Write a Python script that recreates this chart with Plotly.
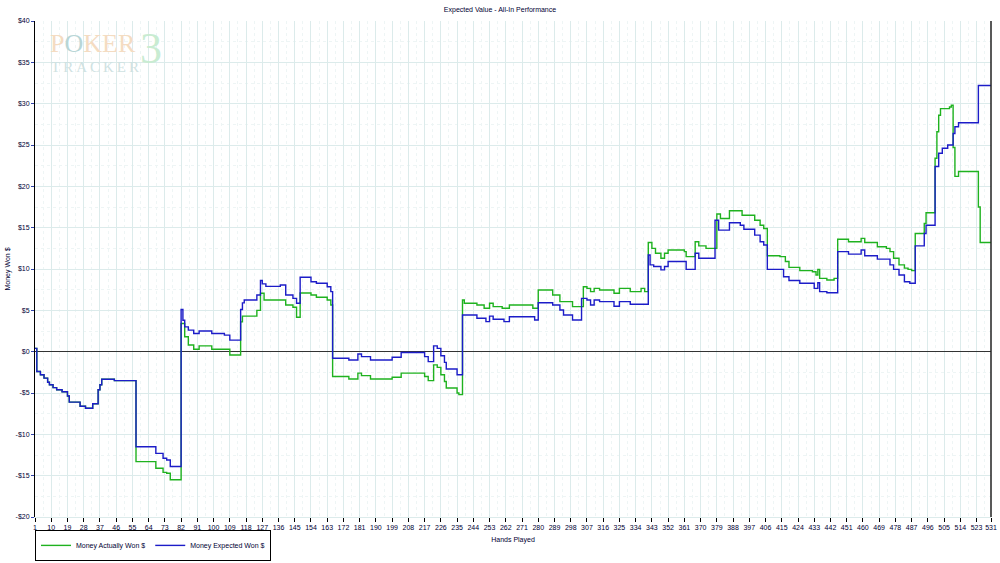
import plotly.graph_objects as go

# ---- data ----
hands_expected = [1, 2, 4, 6, 8, 9, 11, 13, 16, 19, 20, 26, 29, 33, 36, 37, 38, 45,
                  57, 68, 72, 74, 76, 82, 83, 84, 86, 89, 92, 99, 106, 109, 115, 116, 117,
                  124, 126, 127, 129, 137, 140, 144, 146, 148, 154, 157, 163, 165, 166,
                  175, 180, 182, 187, 199, 204, 217, 219, 222, 224, 226, 228, 229, 235,
                  238, 246, 251, 253, 255, 261, 264, 278, 280, 288, 292, 294, 299, 304,
                  307, 309, 311, 314, 322, 325, 331, 341, 342, 344, 348, 350, 352, 362,
                  367, 369, 378, 380, 386, 392, 394, 400, 403, 405, 407, 416, 419, 425,
                  433, 435, 436, 440, 446, 452, 459, 461, 468, 475, 477, 480, 483, 486,
                  489, 494, 495, 500, 502, 504, 507, 510, 511, 513, 524, 531]
won_expected = [0.4, -2.4, -2.8, -3.2, -3.7, -4.0, -4.35, -4.6, -4.84, -5.36, -6.1, -6.6, -6.85, -6.3, -4.6, -4.0, -3.34, -3.5,
                -11.5, -12.3, -12.9, -13.1, -13.9, 5.1, 3.8, 3.0, 2.6, 2.2, 2.5, 2.2, 2.0, 1.4, 5.1, 5.9, 6.25,
                6.85, 8.6, 8.2, 7.9, 8.07, 6.85, 6.45, 5.85, 9.0, 8.46, 8.27, 7.86, 7.26, -0.8,
                -1.0, -0.28, -0.6, -1.0, -0.68, -0.1, -0.6, -1.2, 0.7, 0.4, -0.5, -1.3, -2.1, -2.8,
                4.44, 4.04, 3.63, 4.3, 3.92, 3.63, 4.23, 3.83, 5.92, 5.65, 5.04, 4.44, 3.83, 6.45,
                6.25, 5.65, 6.25, 6.05, 5.5, 6.05, 5.73, 11.7, 10.5, 10.3, 9.9, 10.3, 10.9, 9.96,
                11.9, 11.3, 15.9, 14.7, 15.6, 15.3, 14.8, 14.1, 13.3, 12.9, 9.96, 9.07, 8.6, 8.27,
                7.66, 8.34, 7.26, 7.13, 12.1, 11.8, 12.3, 11.6, 11.2, 10.5, 9.96, 9.27, 8.46, 8.27,
                12.8, 14.3, 15.3, 22.4, 24.0, 24.6, 25.0, 26.4, 27.2, 27.7, 32.2, 32.2]

hands_actual = [1, 2, 4, 6, 8, 9, 11, 13, 16, 19, 20, 26, 29, 33, 36, 37, 38, 45,
                57, 68, 72, 74, 76, 82, 84, 86, 89, 92, 99, 109, 115, 116, 124, 126, 128,
                140, 144, 146, 148, 154, 157, 163, 165, 166, 175, 180, 182, 187, 199, 204,
                217, 219, 222, 224, 226, 228, 229, 235, 236, 238, 239, 246, 250, 253, 255,
                260, 264, 277, 280, 288, 292, 299, 305, 307, 309, 311, 314, 322, 325, 331,
                337, 339, 341, 343, 345, 348, 350, 352, 361, 362, 367, 369, 373, 379, 381,
                386, 393, 400, 403, 405, 407, 414, 417, 419, 425, 432, 434, 435, 436, 440,
                444, 446, 452, 459, 461, 468, 473, 475, 477, 480, 483, 485, 487, 489, 494,
                495, 500, 501, 502, 503, 508, 509, 510, 511, 513, 524, 525, 531]
won_actual = [0.4, -2.4, -2.8, -3.2, -3.7, -4.0, -4.35, -4.6, -4.84, -5.36, -6.1, -6.6, -6.85, -6.3, -4.6, -4.0, -3.34, -3.5,
              -13.3, -14.1, -14.6, -14.7, -15.5, 3.4, 1.8, 0.8, 0.3, 0.7, 0.3, -0.4, 3.6, 4.3, 5.0, 7.06, 6.25,
              5.65, 5.37, 4.16, 7.1, 6.85, 6.58, 6.25, 5.65, -3.0, -3.3, -2.6, -2.9, -3.3, -3.1, -2.6,
              -3.0, -3.5, -1.6, -1.9, -2.8, -3.6, -4.4, -5.0, -5.2, 6.25, 5.85, 5.65, 5.25, 5.85, 5.45,
              5.25, 5.65, 5.25, 7.46, 6.85, 6.05, 5.45, 7.86, 7.66, 7.26, 7.66, 7.46, 7.06, 7.66, 7.26,
              7.66, 7.26, 13.2, 12.5, 11.9, 11.3, 11.9, 12.3, 12.1, 11.5, 13.3, 12.8, 12.5, 16.65, 16.1,
              17.05, 16.5, 15.9, 15.3, 14.9, 11.6, 11.5, 10.9, 10.2, 9.8, 9.67, 9.27, 9.96, 8.87, 8.67,
              8.87, 13.6, 13.3, 13.7, 13.2, 12.7, 12.5, 12.1, 11.3, 10.5, 10.1, 9.96, 9.8, 14.3, 15.5,
              16.8, 23.4, 26.6, 28.6, 29.4, 29.6, 29.8, 24.7, 21.2, 21.8, 17.5, 13.2, 13.2]

x_ticks = list(range(1, 524, 9)) + [531]
y_ticks = [-20, -15, -10, -5, 0, 5, 10, 15, 20, 25, 30, 35, 40]
y_tick_text = ["-$20", "-$15", "-$10", "-$5", "$0", "$5", "$10", "$15", "$20", "$25", "$30", "$35", "$40"]

FONT = "Liberation Sans"

fig = go.Figure()
fig.add_trace(go.Scatter(x=hands_actual, y=won_actual, mode="lines", line_shape="hv",
                         name="Money Actually Won $", line=dict(color="#1fb21f", width=1.4)))
fig.add_trace(go.Scatter(x=hands_expected, y=won_expected, mode="lines", line_shape="hv",
                         name="Money Expected Won $", line=dict(color="#1c1cc8", width=1.4)))

fig.update_layout(
    width=1000, height=563,
    margin=dict(l=35, r=9, t=21, b=46, autoexpand=False),
    paper_bgcolor="white", plot_bgcolor="white",
    font=dict(family=FONT, size=7, color="#000033"),
    title=dict(text="Expected Value - All-In Performance", x=0.5, xanchor="center",
               y=1 - 7 / 563, yanchor="top", font=dict(size=7, color="#000033")),
    showlegend=True,
    legend=dict(orientation="h", x=0, xanchor="left", y=-0.026, yanchor="top",
                bordercolor="#000000", borderwidth=1, font=dict(size=7),
                tracegroupgap=0),
    xaxis=dict(range=[1, 531], tickvals=x_ticks, ticktext=[str(v) for v in x_ticks],
               tickangle=0, automargin=False,
               showgrid=True, gridcolor="#dcebeb", gridwidth=1,
               minor=dict(showgrid=True, gridcolor="#eef5f5", griddash="dot", dtick=4.5, tick0=1),
               ticks="outside", ticklen=4, tickcolor="#000000", tickfont=dict(size=7),
               showline=True, linecolor="#dcebeb", mirror=False, zeroline=False,
               title=dict(text="Hands Played", font=dict(size=7), standoff=6)),
    yaxis=dict(range=[-20, 40], tickvals=y_ticks, ticktext=y_tick_text, automargin=False,
               showgrid=True, gridcolor="#dcebeb", gridwidth=1,
               minor=dict(showgrid=True, gridcolor="#eef5f5", griddash="dot", dtick=2.5),
               ticks="outside", ticklen=3, tickcolor="#3344aa", tickfont=dict(size=7),
               showline=True, linecolor="#000000", linewidth=1,
               zeroline=True, zerolinecolor="#333333", zerolinewidth=1,
               title=dict(text="Money Won $", font=dict(size=7), standoff=4)),
)

# right border line of the plot area
fig.add_shape(type="line", xref="paper", yref="paper", x0=1, x1=1, y0=0, y1=1,
              line=dict(color="#222222", width=1.5))

# PokerTracker 3 watermark logo (screen pixel positions converted to paper coords)
def px_x(px):
    return (px - 35) / 956

def px_y(py):
    return (517 - py) / 496

fig.add_annotation(xref="paper", yref="paper", x=px_x(48), y=px_y(27), xanchor="left", yanchor="top",
                   text="P<span style='color:#b8d6d6'>O</span>KER", showarrow=False,
                   font=dict(family="Liberation Serif", size=26, color="#f4dcc2"))
fig.add_annotation(xref="paper", yref="paper", x=px_x(49), y=px_y(57), xanchor="left", yanchor="top",
                   text="T\u2009R\u2009A\u2009C\u2009K\u2009E\u2009R", showarrow=False,
                   font=dict(family="Liberation Serif", size=15, color="#cfe2e2"))
fig.add_annotation(xref="paper", yref="paper", x=px_x(138), y=px_y(22), xanchor="left", yanchor="top",
                   text="3", showarrow=False,
                   font=dict(family="Liberation Serif", size=44, color="#c9ecd2"))

# remove the default 8px page margin so the figure sits at the window's corner
fig.write_html("out.html", config={"displayModeBar": False},
               post_script="document.body.style.margin='0px';")
